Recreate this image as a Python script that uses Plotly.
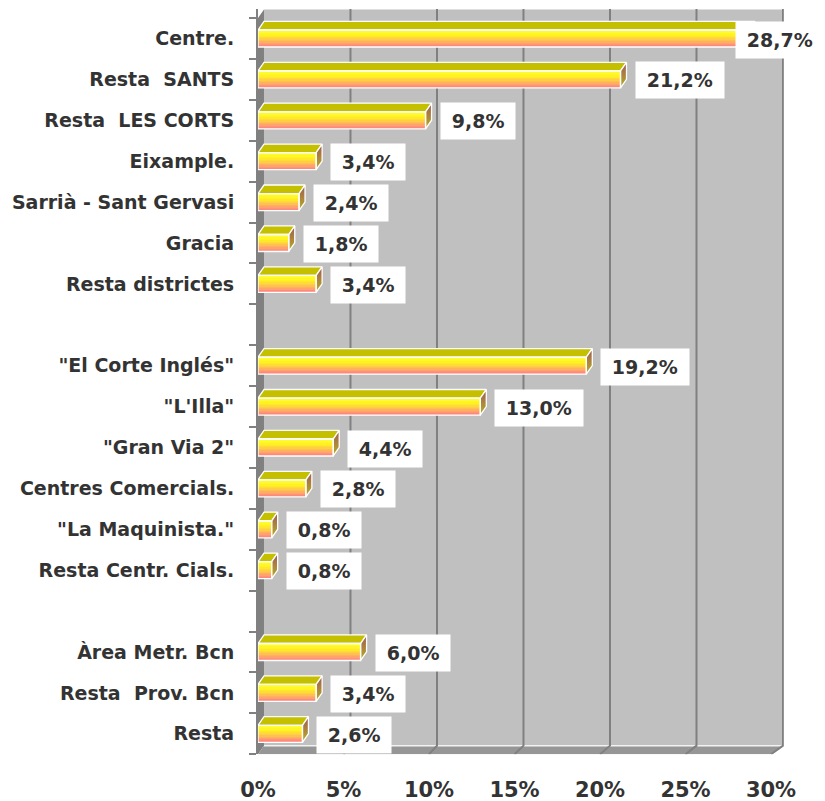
import plotly.graph_objects as go

# ---------------- data ----------------
categories = ["Centre.", "Resta\u00a0 SANTS", "Resta\u00a0 LES CORTS", "Eixample.",
              "Sarrià - Sant Gervasi", "Gracia", "Resta districtes", "",
              "\"El Corte Inglés\"", "\"L'Illa\"", "\"Gran Via 2\"", "Centres Comercials.",
              "\"La Maquinista.\"", "Resta Centr. Cials.", "",
              "Àrea Metr. Bcn", "Resta\u00a0 Prov. Bcn", "Resta"]
values = [28.7, 21.2, 9.8, 3.4, 2.4, 1.8, 3.4, None,
          19.2, 13.0, 4.4, 2.8, 0.8, 0.8, None,
          6.0, 3.4, 2.6]
x_tickvals = [0, 5, 10, 15, 20, 25, 30]
x_ticktext = ["0%", "5%", "10%", "15%", "20%", "25%", "30%"]

# ---------------- geometry / style ----------------
PAGE_OFF = 8                      # default body margin of the html page
W, H = 825 - PAGE_OFF, 801 - PAGE_OFF
FONT = "DejaVu Sans"
TXT = "#333333"
DX = 0.35      # depth offset (x units)
DY = 0.21      # depth offset (slot units)
BAR_H = 0.415  # front face height (slot units)
K = 1.0117     # back plane scale (perspective)
XMAX = 30
n = len(categories)
slots = list(range(n))


def bx(t):
    return DX + t * K


x0_px, x30_px = 258 - PAGE_OFF, 771 - PAGE_OFF
ppu = (x30_px - x0_px) / XMAX
x_range = [0, bx(XMAX) + 0.05]
slot0_px, slot_px = 38.5 - PAGE_OFF, 40.9
y_top = -0.5 - DY - 0.01
y_bot = n - 0.5
ytop_px = slot0_px + y_top * slot_px
ybot_px = slot0_px + y_bot * slot_px

fig = go.Figure()

# ---------------- walls / floor / grid (shapes below traces) ----------------
shapes = []


def poly(pts, fill, line_color=None, lw=0):
    path = "M " + " L ".join(f"{x},{y}" for x, y in pts) + " Z"
    shapes.append(dict(type="path", path=path, xref="x", yref="y", layer="below",
                       fillcolor=fill, line=dict(color=line_color or fill, width=lw)))


def seg(pts, color, lw):
    path = "M " + " L ".join(f"{x},{y}" for x, y in pts)
    shapes.append(dict(type="path", path=path, xref="x", yref="y", layer="below",
                       line=dict(color=color, width=lw)))


back_top = -0.5 - DY
back_bot = y_bot - DY
poly([(bx(0), back_top), (bx(XMAX), back_top), (bx(XMAX), back_bot), (bx(0), back_bot)], "#C0C0C0")
poly([(0, -0.5), (bx(0), back_top), (bx(0), back_bot), (0, y_bot)], "#808080")
poly([(0, y_bot), (bx(0), back_bot), (bx(XMAX), back_bot), (XMAX, y_bot)], "#969696")
seg([(bx(0), back_bot), (bx(XMAX), back_bot)], "#F2F2F2", 1.5)
for t in x_tickvals[1:]:
    seg([(bx(t), back_top - 0.05), (bx(t), back_bot), (t, y_bot)], "#808080", 2)

# ---------------- bars: front face (gradient stripes) ----------------
stops = [(0.0, (255, 255, 60)), (0.3, (255, 242, 30)), (0.55, (255, 205, 70)),
         (0.8, (255, 160, 110)), (1.0, (255, 128, 128))]


def grad(f):
    for (f0, c0), (f1, c1) in zip(stops[:-1], stops[1:]):
        if f0 <= f <= f1:
            u = (f - f0) / (f1 - f0)
            return "rgb(%d,%d,%d)" % tuple(round(a + (b - a) * u) for a, b in zip(c0, c1))
    return "rgb(255,128,128)"


N = 12
step = BAR_H / N
for k in range(N):
    w = step * (1.6 if k < N - 1 else 1.0)
    fig.add_trace(go.Bar(
        x=values, y=slots, orientation="h", width=w, offset=-BAR_H / 2 + k * step,
        marker=dict(color=grad((k + 0.5) / N), line=dict(width=0)),
        hoverinfo="skip", showlegend=False))

# ---------------- bars: top faces ----------------
tx, ty = [], []
ox, oy = [], []
for s, v in zip(slots, values):
    if v is None:
        continue
    top = s - BAR_H / 2
    bot = s + BAR_H / 2
    tx += [0, v, v + DX, DX, 0, None]
    ty += [top, top, top - DY, top - DY, top, None]
    ox += [0, v, v, 0, 0, None]
    oy += [top, top, bot, bot, top, None]
fig.add_trace(go.Scatter(x=tx, y=ty, mode="lines", fill="toself", fillcolor="#C4C000",
                         line=dict(color="white", width=1.3), hoverinfo="skip", showlegend=False))

# ---------------- bars: end faces ----------------
for s, v in zip(slots, values):
    if v is None:
        continue
    top = s - BAR_H / 2
    bot = s + BAR_H / 2
    fig.add_trace(go.Scatter(
        x=[v, v + DX, v + DX, v, v], y=[top, top - DY, bot - DY, bot, top],
        mode="lines", fill="toself",
        fillgradient=dict(type="vertical", colorscale=[[0, "#B8B020"], [1, "#A05858"]]),
        line=dict(color="white", width=1.3), hoverinfo="skip", showlegend=False))

fig.add_trace(go.Scatter(x=ox, y=oy, mode="lines", line=dict(color="white", width=1.3),
                         hoverinfo="skip", showlegend=False))

# ---------------- value labels ----------------
LBL_FONT = dict(family=FONT, size=19, color=TXT, weight="bold")
PAD = "\u2009"
for s, v in zip(slots, values):
    if v is None:
        continue
    txt = PAD + f"{v:.1f}".replace(".", ",") + "%" + PAD
    right_px = x0_px + (v + DX) * ppu + 9 + 80
    if right_px > W:
        fig.add_annotation(x=1.0, xref="paper", y=s, yref="y", yshift=-1,
                           xanchor="right", text=txt, showarrow=False,
                           font=LBL_FONT, bgcolor="white", borderpad=7)
    else:
        fig.add_annotation(x=v + DX, y=s, xref="x", yref="y", xanchor="left", xshift=8,
                           yshift=-1, text=txt, showarrow=False,
                           font=LBL_FONT, bgcolor="white", borderpad=7)

fig.update_layout(
    width=W, height=H,
    margin=dict(l=0, r=0, t=0, b=0, autoexpand=False),
    paper_bgcolor="white", plot_bgcolor="rgba(0,0,0,0)",
    barmode="overlay", bargap=0,
    shapes=shapes, showlegend=False,
    xaxis=dict(domain=[x0_px / W, (x0_px + ppu * x_range[1]) / W], range=x_range,
               automargin=False,
               showgrid=False, zeroline=False, showline=False,
               tickvals=x_tickvals, ticktext=x_ticktext, ticks="",
               ticklabelstandoff=21,
               tickfont=dict(family=FONT, size=21, color=TXT, weight="bold")),
    yaxis=dict(domain=[(H - ybot_px) / H, (H - ytop_px) / H], range=[y_bot, y_top],
               automargin=False,
               showgrid=False, zeroline=False, showline=True, linecolor="#808080", linewidth=2,
               tickvals=slots, ticktext=categories, ticks="",
               minor=dict(tickvals=[s - 0.5 for s in slots] + [n - 0.5], ticks="outside",
                          ticklen=7, tickcolor="#808080", tickwidth=2, showgrid=False),
               ticklabelstandoff=18,
               tickfont=dict(family=FONT, size=19, color=TXT, weight="bold")),
)

fig.write_html("out.html")
